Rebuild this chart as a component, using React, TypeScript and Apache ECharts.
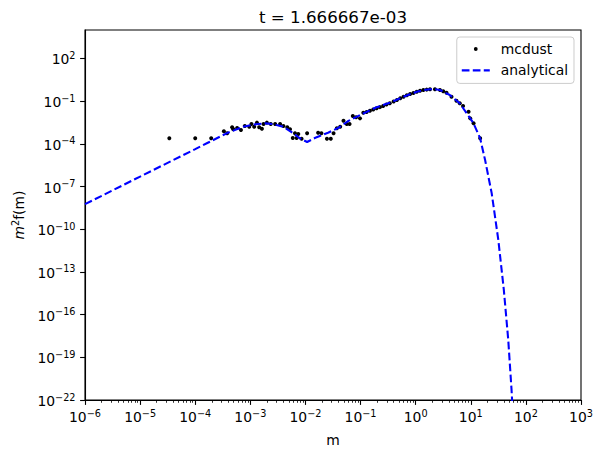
import React, { useEffect, useRef } from 'react';
import * as echarts from 'echarts';

const FONT = 'DejaVu Sans';
const titleText = 't = 1.666667e-03';
const xAxisName = 'm';
const seriesNames = ['mcdust', 'analytical'];

// tick exponents (log10)
const xTickExponents = [-6, -5, -4, -3, -2, -1, 0, 1, 2, 3];
const yTickExponents = [-22, -19, -16, -13, -10, -7, -4, -1, 2];
const xRange = [-6, 3];
const yRange = [-22, 4];

// mcdust points, log10(m) and log10(m^2 f(m))
const mcdustLogM = [
  -4.47, -4.0, -3.71, -3.48, -3.42, -3.33, -3.31, -3.24, -3.17, -3.1, -3.02, -2.98, -2.93, -2.88, -2.84,
  -2.79, -2.76, -2.7, -2.63, -2.55, -2.46, -2.4, -2.33, -2.28, -2.23, -2.19, -2.16, -2.13, -2.07, -1.97,
  -1.77, -1.71, -1.61, -1.54, -1.49, -1.43, -1.37, -1.31, -1.25, -1.2, -1.14, -1.08, -1.01, -0.95, -0.89,
  -0.83, -0.77, -0.71, -0.65, -0.59, -0.53, -0.47, -0.4, -0.34, -0.28, -0.22, -0.16, -0.1, -0.04, 0.02,
  0.08, 0.14, 0.2, 0.26, 0.35, 0.44, 0.5, 0.56, 0.65, 0.74, 0.8, 0.86, 0.96, 0.99, 1.05, 1.17,
];
const mcdustLogF = [
  -3.61, -3.61, -3.61, -3.12, -3.26, -2.84, -2.98, -2.89, -3.03, -2.75, -2.8, -2.61, -2.8, -2.51, -2.84,
  -2.94, -2.61, -2.51, -2.61, -2.61, -2.61, -2.75, -2.84, -2.98, -3.59, -3.26, -3.59, -3.31, -3.64, -3.26,
  -3.22, -3.26, -3.64, -3.64, -3.26, -2.91, -2.8, -2.37, -2.61, -2.61, -2.04, -2.13, -2.21, -1.81, -1.76,
  -1.67, -1.58, -1.5, -1.42, -1.34, -1.24, -1.15, -1.03, -0.92, -0.8, -0.69, -0.59, -0.5, -0.42, -0.34,
  -0.27, -0.22, -0.19, -0.17, -0.17, -0.22, -0.3, -0.41, -0.69, -0.97, -1.15, -1.34, -1.74, -2.21, -2.56, -3.61,
];

// analytical curve, log10 values
const analyticalLogM = [
  -6, -5, -4, -3.79, -3.43, -3.13, -2.9, -2.73, -2.58, -2.4, -2.22, -2.1, -1.97, -1.82, -1.59, -1.4,
  -1.22, -0.98, -0.71, -0.47, -0.22, 0.02, 0.14, 0.26, 0.35, 0.44, 0.62, 0.8, 0.99, 1.05, 1.17, 1.26,
  1.38, 1.5, 1.6, 1.68, 1.74, 1.77,
];
const analyticalLogF = [
  -8.24, -6.3, -4.37, -3.96, -3.26, -2.8, -2.62, -2.56, -2.61, -2.8, -3.26, -3.61, -3.87, -3.57, -3.22, -2.87,
  -2.39, -1.92, -1.43, -1.12, -0.69, -0.34, -0.22, -0.16, -0.16, -0.22, -0.57, -1.15, -2.21, -2.56, -3.61, -5.14,
  -7.48, -10.76, -14.27, -17.78, -21.3, -23.5,
];

const supText = (v: number) => {
  const n = Math.round(v);
  return n < 0 ? '\u2212' + Math.abs(n) : String(n);
};
const powLabel = (v: number) => `{b|10}{s|${supText(v)}}`;

const richPow = {
  b: { fontSize: 13.9, fontFamily: FONT, color: '#000', lineHeight: 16, verticalAlign: 'bottom', padding: [3, 0, 0, 0] },
  s: { fontSize: 9.7, fontFamily: FONT, color: '#000', lineHeight: 11, verticalAlign: 'top' },
};

const dotIcon = 'path://M0,0M34,14M15.9,7A1.9,1.9,0,1,1,12.1,7A1.9,1.9,0,1,1,15.9,7Z';
const dashIcon =
  'path://M0,0M34,14M0,5.95H7.7V8.05H0Z M11,5.95H18.7V8.05H11Z M22,5.95H28V8.05H22Z';

export default function App() {
  const ref = useRef<HTMLDivElement>(null);
  useEffect(() => {
    if (!ref.current) return;
    const chart = echarts.init(ref.current, undefined, { renderer: 'svg' });
    const xMinor: number[] = [];
    for (let n = xRange[0]; n < xRange[1]; n++) {
      for (let k = 2; k <= 9; k++) xMinor.push(n + Math.log10(k));
    }
    const scatterData = mcdustLogM.map((m, i) => [m, mcdustLogF[i]]);
    const lineData = analyticalLogM.map((m, i) => [m, analyticalLogF[i]]);
    chart.setOption({
      animation: false,
      backgroundColor: '#ffffff',
      title: {
        text: titleText,
        left: 259,
        top: 7,
        padding: 0,
        textStyle: { fontFamily: FONT, fontSize: 16.67, fontWeight: 'normal', color: '#000', lineHeight: 20 },
      },
      grid: { left: 85, right: 22, top: 30, bottom: 57, show: true, borderColor: '#000', borderWidth: 1.1, backgroundColor: 'transparent' },
      legend: {
        orient: 'vertical',
        right: 29,
        top: 37,
        itemWidth: 34,
        itemHeight: 14,
        itemGap: 7.4,
        padding: [5, 6, 6, 5],
        backgroundColor: 'rgba(255,255,255,0.8)',
        borderColor: '#cccccc',
        borderWidth: 1,
        borderRadius: 3,
        selectedMode: false,
        itemStyle: { borderWidth: 0 },
        textStyle: { fontFamily: FONT, fontSize: 13.9, color: '#000' },
        data: [
          { name: seriesNames[0], icon: dotIcon, itemStyle: { color: '#000000', opacity: 1 } },
          { name: seriesNames[1], icon: dashIcon, itemStyle: { color: '#0000ff', opacity: 1 } },
        ],
      },
      xAxis: [
        {
          type: 'value',
          min: xRange[0],
          max: xRange[1],
          interval: 1,
          name: xAxisName,
          nameLocation: 'middle',
          nameGap: 33,
          nameTextStyle: { fontFamily: FONT, fontSize: 13.9, color: '#000' },
          axisLine: { show: true, onZero: false, lineStyle: { color: '#000', width: 1.1 } },
          axisTick: { show: true, length: 4.9, lineStyle: { color: '#000', width: 1.1 }, customValues: xTickExponents },
          axisLabel: { margin: 8, formatter: powLabel, rich: richPow, customValues: xTickExponents },
          splitLine: { show: false },
        },
        {
          type: 'value',
          min: xRange[0],
          max: xRange[1],
          position: 'bottom',
          axisLine: { show: false, onZero: false },
          axisTick: { show: true, length: 2.8, lineStyle: { color: '#000', width: 0.8 }, customValues: xMinor },
          axisLabel: { show: false },
          splitLine: { show: false },
        },
      ],
      yAxis: {
        type: 'value',
        min: yRange[0],
        max: yRange[1],
        interval: 3,
        name: '{i|m}{s|2}{n|f(m)}',
        nameLocation: 'middle',
        nameGap: 55,
        nameRotate: 90,
        nameTextStyle: {
          rich: {
            i: { fontFamily: FONT, fontStyle: 'italic', fontSize: 13.9, color: '#000', lineHeight: 16, verticalAlign: 'bottom', padding: [3, 0, 0, 0] },
            s: { fontFamily: FONT, fontSize: 9.7, color: '#000', lineHeight: 11, verticalAlign: 'top' },
            n: { fontFamily: FONT, fontSize: 13.9, color: '#000', lineHeight: 16, verticalAlign: 'bottom', padding: [3, 0, 0, 0] },
          },
        },
        axisLine: { show: true, onZero: false, lineStyle: { color: '#000', width: 1.1 } },
        axisTick: { show: true, length: 4.9, lineStyle: { color: '#000', width: 1.1 }, customValues: yTickExponents },
        axisLabel: { margin: 9.5, formatter: powLabel, rich: richPow, customValues: yTickExponents },
        splitLine: { show: false },
      },
      series: [
        {
          name: seriesNames[0],
          type: 'scatter',
          data: scatterData,
          symbol: 'circle',
          symbolSize: 4,
          itemStyle: { color: '#000000', opacity: 1 },
          z: 2,
        },
        {
          name: seriesNames[1],
          type: 'line',
          data: lineData,
          symbol: 'none',
          showSymbol: false,
          smooth: false,
          clip: true,
          itemStyle: { color: '#0000ff' },
          lineStyle: { color: '#0000ff', width: 2.08, type: [7.7, 3.3] },
          z: 3,
        },
      ],
    });
    return () => chart.dispose();
  }, []);
  return (
    <div
      ref={ref}
      style={{ position: 'fixed', left: 0, top: 0, width: 603, height: 457, background: '#fff' }}
    />
  );
}
